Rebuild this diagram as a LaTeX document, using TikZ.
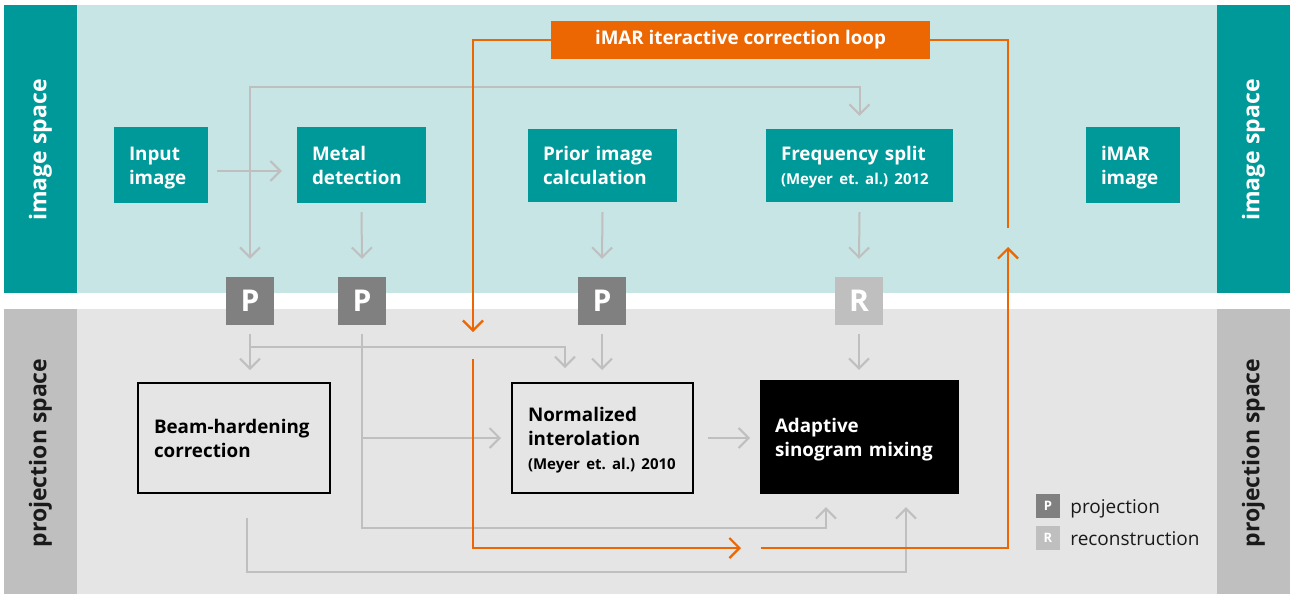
\documentclass[tikz,border=0pt]{standalone}
\usepackage{fontspec}
\setmainfont{Open Sans}
\usetikzlibrary{arrows.meta,calc}
\definecolor{teal0}{HTML}{009999}
\definecolor{imgbg}{HTML}{C7E5E4}
\definecolor{projbg}{HTML}{E5E5E5}
\definecolor{lgray}{HTML}{BFBFBF}
\definecolor{pgray}{HTML}{808080}
\definecolor{orng}{HTML}{EC6602}
\definecolor{txt}{HTML}{1A1A1A}
\newcommand\mainf{\fontsize{18.8}{24}\selectfont\bfseries}
\newcommand\smallf{\fontsize{15}{24}\selectfont\bfseries}
\newcommand\sidef{\fontsize{23}{24}\selectfont\bfseries}
\newcommand\bigPf{\fontsize{30}{30}\selectfont\bfseries}
\newcommand\legPf{\fontsize{13}{13}\selectfont\bfseries}
\newcommand\legf{\fontsize{19}{22}\selectfont}
\newcommand\topstrut{\rule{0pt}{21.2pt}}
\newcommand\botstrut{\rule[-7.2pt]{0pt}{7.2pt}}
\frenchspacing
\begin{document}
\begin{tikzpicture}[x=1pt,y=-1pt,
 txtbox/.style={align=left,inner ysep=0pt,execute at begin node=\topstrut,execute at end node=\botstrut},
 tbox/.style={txtbox,fill=teal0,text=white,font=\mainf,inner xsep=15pt},
 wbox/.style={txtbox,draw=black,line width=2pt,fill=projbg,text=black,font=\mainf,inner xsep=16pt},
 bbox/.style={txtbox,fill=black,text=white,font=\mainf,inner xsep=15pt},
 pbox/.style={fill=pgray,text=white,font=\bigPf,minimum size=48pt,inner sep=0pt},
 rbox/.style={pbox,fill=lgray},
 tipg/.tip={Straight Barb[length=10pt,width=20pt]},
 garr/.style={draw=lgray,line width=2pt,-tipg},
 gline/.style={draw=lgray,line width=2pt},
 oarr/.style={draw=orng,line width=2.2pt,-tipg},
 oline/.style={draw=orng,line width=2.2pt},
 side/.style={rotate=90,font=\sidef,inner sep=0pt}]
\useasboundingbox (0,0) rectangle (1290,595);
% backgrounds
\fill[white] (0,0) rectangle (1290,595);
\fill[imgbg] (77,5) rectangle (1217,293);
\fill[teal0] (4,5) rectangle (77,293);
\fill[teal0] (1217,5) rectangle (1290,293);
\fill[projbg] (77,309) rectangle (1217,594);
\fill[lgray] (4,309) rectangle (77,594);
\fill[lgray] (1217,309) rectangle (1290,594);
% side labels
\node[side,text=white] (sl1) at (40.5,150) {image space};
\node[side,text=white] (sr1) at (1253.5,150) {image space};
\node[side,text=txt] (sl2) at (40.5,453) {projection space};
\node[side,text=txt] (sr2) at (1253.5,453) {projection space};
% image-space boxes
\node[tbox,minimum height=76pt,text width=64pt] (input) at (161,165) {Input\\image};
\node[tbox,minimum height=76pt,text width=99pt] (metal) at (361.5,165) {Metal\\detection};
\node[tbox,minimum height=73pt,text width=119pt] (prior) at (602.5,165.5) {Prior image\\calculation};
\node[tbox,minimum height=73pt,text width=157pt] (freq) at (859.5,165.5) {Frequency split\\{\smallf (Meyer et. al.) 2012}};
\node[tbox,minimum height=76pt,text width=64pt] (imar) at (1133,165) {iMAR\\image};
\node[fill=orng,text=white,font=\mainf,minimum width=379pt,minimum height=38pt,inner sep=0pt] (loop) at (740.5,40) {iMAR iteractive correction loop};
% P / R boxes
\node[pbox] (P1) at (250,301) {P};
\node[pbox] (P2) at (362,301) {P};
\node[pbox] (P3) at (602,301) {P};
\node[rbox] (R) at (859,301) {R};
% projection-space boxes
\node[wbox,minimum width=192pt,minimum height=110pt,text width=160pt] (beam) at (234,438) {Beam-hardening\\correction};
\node[wbox,minimum width=181pt,minimum height=110pt,text width=149pt] (norm) at (602.5,438) {Normalized\\interolation\\{\smallf (Meyer et. al.) 2010}};
\node[bbox,minimum width=199pt,minimum height=114pt,text width=169pt] (adapt) at (859.5,437) {Adaptive\\sinogram mixing};
% legend
\node[fill=pgray,text=white,font=\legPf,minimum size=24pt,inner sep=0pt] (lp) at (1048,506) {P};
\node[fill=lgray,text=white,font=\legPf,minimum size=24pt,inner sep=0pt] (lr) at (1048,538) {R};
\node[anchor=base west,font=\legf,text=txt,inner sep=0pt] (lpt) at ($(lp.east)+(10,7)$) {projection};
\node[anchor=base west,font=\legf,text=txt,inner sep=0pt] (lrt) at ($(lr.east)+(10,7)$) {reconstruction};
% gray connectors
\coordinate (c1) at (250,87);
\draw[gline,tipg-tipg] ($(P1.north)+(0,-18)$) -- (c1) -| ($(freq.north)+(0,-13)$);
\draw[garr] ($(input.east)+(9,6)$) -- ($(metal.west)+(-15,6)$);
\draw[garr] ($(metal.south)+(0,9)$) -- ($(P2.north)+(0,-18)$);
\draw[garr] ($(prior.south)+(0,10)$) -- ($(P3.north)+(0,-18)$);
\draw[garr] ($(freq.south)+(0,10)$) -- ($(R.north)+(0,-18)$);
\draw[garr] ($(P1.south)+(0,9)$) -- ($(P1.south |- beam.north)+(0,-12)$);
\draw[garr] ($(P1.south)+(0,22)$) -| ($(norm.north)+(-37.5,-14)$);
\draw[garr] ($(P3.south)+(0,9)$) -- ($(P3.south |- norm.north)+(0,-12)$);
\draw[garr] ($(R.south)+(0,9)$) -- ($(R.south |- adapt.north)+(0,-10)$);
\draw[garr] ($(P2.south)+(0,9)$) -- ++(0,194) -| ($(adapt.south)+(-33.5,13)$);
\draw[garr] (P2.south |- norm.west) -- ($(norm.west)+(-10,0)$);
\draw[garr] ($(norm.east)+(14,0)$) -- ($(norm.east)+(56,0)$);
\draw[garr] ($(beam.south)+(13,24)$) -- ++(0,54) -| ($(adapt.south)+(46.5,13)$);
% orange loop
\coordinate (o1) at (473,332);
\coordinate (o2) at (473,359);
\coordinate (o3) at (741,548);
\coordinate (o4) at (761,548);
\coordinate (o5) at (1008,247);
\coordinate (o6) at (1008,228);
\draw[oarr] (loop.west) -| (o1);
\draw[oarr] (o2) |- (o3);
\draw[oarr] (o4) -| (o5);
\draw[oline] (o6) |- (loop.east);
\end{tikzpicture}
\end{document}
